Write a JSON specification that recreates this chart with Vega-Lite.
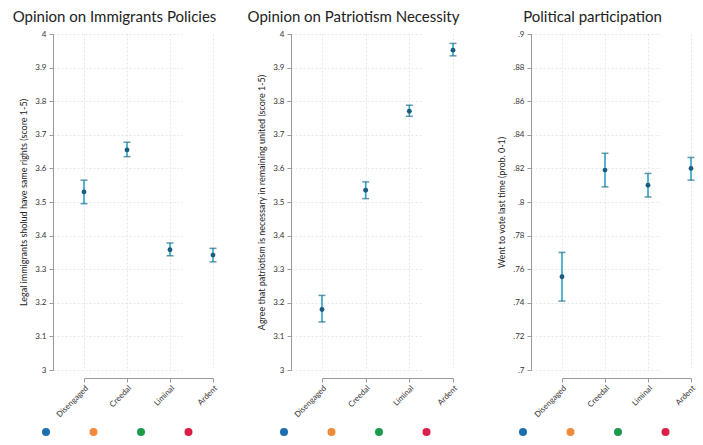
{
  "$schema": "https://vega.github.io/schema/vega-lite/v6.json",
  "padding": {"left": 12, "top": 10, "right": 5, "bottom": 5},
  "background": "white",
  "datasets": {
    "est": [
      {"panel": "imm", "group": "Disengaged", "mean": 3.53, "lo": 3.495, "hi": 3.565},
      {"panel": "imm", "group": "Creedal", "mean": 3.655, "lo": 3.635, "hi": 3.678},
      {"panel": "imm", "group": "Liminal", "mean": 3.358, "lo": 3.34, "hi": 3.378},
      {"panel": "imm", "group": "Ardent", "mean": 3.342, "lo": 3.322, "hi": 3.362},
      {"panel": "pat", "group": "Disengaged", "mean": 3.18, "lo": 3.143, "hi": 3.222},
      {"panel": "pat", "group": "Creedal", "mean": 3.535, "lo": 3.51, "hi": 3.56},
      {"panel": "pat", "group": "Liminal", "mean": 3.77, "lo": 3.755, "hi": 3.788},
      {"panel": "pat", "group": "Ardent", "mean": 3.952, "lo": 3.935, "hi": 3.972},
      {"panel": "vote", "group": "Disengaged", "mean": 0.7555, "lo": 0.741, "hi": 0.770},
      {"panel": "vote", "group": "Creedal", "mean": 0.819, "lo": 0.809, "hi": 0.829},
      {"panel": "vote", "group": "Liminal", "mean": 0.810, "lo": 0.803, "hi": 0.817},
      {"panel": "vote", "group": "Ardent", "mean": 0.820, "lo": 0.813, "hi": 0.8265}
    ]
  },
  "hconcat": [
    {
      "width": 129, "height": 336,
      "data": {"name": "est"},
      "transform": [{"filter": "datum.panel === 'imm'"}],
      "title": {"text": "Opinion on Immigrants Policies", "dx": -34},
      "encoding": {
        "x": {"field": "group", "type": "nominal", "scale": {"type": "point", "padding": 0, "domain": ["Disengaged", "Creedal", "Liminal", "Ardent"]},
              "axis": {"title": null, "offset": 8, "labelAngle": -45, "labelFontSize": 8, "tickSize": 4, "domainColor": "#9a9a9a", "tickColor": "#9a9a9a", "labelColor": "#333", "grid": true, "gridColor": "#e6e6e6", "gridDash": [2, 2]}}
      },
      "layer": [
        {"mark": {"type": "rule", "color": "#2ea3c6", "strokeWidth": 1.6},
         "encoding": {"y": {"field": "lo", "type": "quantitative", "title": "Legal immigrants sholud have same rights (score 1-5)",
                            "scale": {"domain": [3, 4], "nice": false, "zero": false},
                            "axis": {"values": [3, 3.1, 3.2, 3.3, 3.4, 3.5, 3.6, 3.7, 3.8, 3.9, 4], "labelExpr": "format(datum.value, '.1~f')"}},
                      "y2": {"field": "hi"}}},
        {"mark": {"type": "tick", "color": "#1f6e8c", "size": 7, "thickness": 1.5, "orient": "horizontal"},
         "encoding": {"y": {"field": "lo", "type": "quantitative", "title": "Legal immigrants sholud have same rights (score 1-5)",
                            "axis": {"values": [3, 3.1, 3.2, 3.3, 3.4, 3.5, 3.6, 3.7, 3.8, 3.9, 4], "labelExpr": "format(datum.value, '.1~f')"}}}},
        {"mark": {"type": "tick", "color": "#1f6e8c", "size": 7, "thickness": 1.5, "orient": "horizontal"},
         "encoding": {"y": {"field": "hi", "type": "quantitative", "title": "Legal immigrants sholud have same rights (score 1-5)",
                            "axis": {"values": [3, 3.1, 3.2, 3.3, 3.4, 3.5, 3.6, 3.7, 3.8, 3.9, 4], "labelExpr": "format(datum.value, '.1~f')"}}}},
        {"mark": {"type": "point", "filled": true, "color": "#1a5d7e", "size": 24, "opacity": 1},
         "encoding": {"y": {"field": "mean", "type": "quantitative", "title": "Legal immigrants sholud have same rights (score 1-5)",
                            "axis": {"values": [3, 3.1, 3.2, 3.3, 3.4, 3.5, 3.6, 3.7, 3.8, 3.9, 4], "labelExpr": "format(datum.value, '.1~f')"}}}},
        {"mark": {"type": "point", "filled": true, "opacity": 0},
         "encoding": {"y": {"field": "mean", "type": "quantitative", "title": "Legal immigrants sholud have same rights (score 1-5)",
                            "axis": {"values": [3, 3.1, 3.2, 3.3, 3.4, 3.5, 3.6, 3.7, 3.8, 3.9, 4], "labelExpr": "format(datum.value, '.1~f')"}},
                      "color": {"field": "group", "type": "nominal",
                                "scale": {"domain": ["Disengaged", "Creedal", "Liminal", "Ardent"], "range": ["#1c6fb0", "#ef8a3a", "#1d9a4e", "#dc1f4a"]},
                                "legend": {"orient": "none", "legendX": -43, "legendY": 393, "direction": "horizontal", "title": null, "labelExpr": "''", "symbolType": "circle", "symbolSize": 64, "symbolOpacity": 1, "symbolStrokeWidth": 0, "columnPadding": 37.5, "labelOffset": 0}}}}
      ]
    },
    {
      "width": 131, "height": 336,
      "data": {"name": "est"},
      "transform": [{"filter": "datum.panel === 'pat'"}],
      "title": {"text": "Opinion on Patriotism Necessity", "dx": -34},
      "encoding": {
        "x": {"field": "group", "type": "nominal", "scale": {"type": "point", "padding": 0, "domain": ["Disengaged", "Creedal", "Liminal", "Ardent"]},
              "axis": {"title": null, "offset": 8, "labelAngle": -45, "labelFontSize": 8, "tickSize": 4, "domainColor": "#9a9a9a", "tickColor": "#9a9a9a", "labelColor": "#333", "grid": true, "gridColor": "#e6e6e6", "gridDash": [2, 2]}}
      },
      "layer": [
        {"mark": {"type": "rule", "color": "#2ea3c6", "strokeWidth": 1.6},
         "encoding": {"y": {"field": "lo", "type": "quantitative", "title": "Agree that patriotism is necessary in remaining united (score 1-5)",
                            "scale": {"domain": [3, 4], "nice": false, "zero": false},
                            "axis": {"values": [3, 3.1, 3.2, 3.3, 3.4, 3.5, 3.6, 3.7, 3.8, 3.9, 4], "labelExpr": "format(datum.value, '.1~f')"}},
                      "y2": {"field": "hi"}}},
        {"mark": {"type": "tick", "color": "#1f6e8c", "size": 7, "thickness": 1.5, "orient": "horizontal"},
         "encoding": {"y": {"field": "lo", "type": "quantitative", "title": "Agree that patriotism is necessary in remaining united (score 1-5)",
                            "axis": {"values": [3, 3.1, 3.2, 3.3, 3.4, 3.5, 3.6, 3.7, 3.8, 3.9, 4], "labelExpr": "format(datum.value, '.1~f')"}}}},
        {"mark": {"type": "tick", "color": "#1f6e8c", "size": 7, "thickness": 1.5, "orient": "horizontal"},
         "encoding": {"y": {"field": "hi", "type": "quantitative", "title": "Agree that patriotism is necessary in remaining united (score 1-5)",
                            "axis": {"values": [3, 3.1, 3.2, 3.3, 3.4, 3.5, 3.6, 3.7, 3.8, 3.9, 4], "labelExpr": "format(datum.value, '.1~f')"}}}},
        {"mark": {"type": "point", "filled": true, "color": "#1a5d7e", "size": 24, "opacity": 1},
         "encoding": {"y": {"field": "mean", "type": "quantitative", "title": "Agree that patriotism is necessary in remaining united (score 1-5)",
                            "axis": {"values": [3, 3.1, 3.2, 3.3, 3.4, 3.5, 3.6, 3.7, 3.8, 3.9, 4], "labelExpr": "format(datum.value, '.1~f')"}}}},
        {"mark": {"type": "point", "filled": true, "opacity": 0},
         "encoding": {"y": {"field": "mean", "type": "quantitative", "title": "Agree that patriotism is necessary in remaining united (score 1-5)",
                            "axis": {"values": [3, 3.1, 3.2, 3.3, 3.4, 3.5, 3.6, 3.7, 3.8, 3.9, 4], "labelExpr": "format(datum.value, '.1~f')"}},
                      "color": {"field": "group", "type": "nominal",
                                "scale": {"domain": ["Disengaged", "Creedal", "Liminal", "Ardent"], "range": ["#1c6fb0", "#ef8a3a", "#1d9a4e", "#dc1f4a"]},
                                "legend": {"orient": "none", "legendX": -43, "legendY": 393, "direction": "horizontal", "title": null, "labelExpr": "''", "symbolType": "circle", "symbolSize": 64, "symbolOpacity": 1, "symbolStrokeWidth": 0, "columnPadding": 37.5, "labelOffset": 0}}}}
      ]
    },
    {
      "width": 129, "height": 336,
      "data": {"name": "est"},
      "transform": [{"filter": "datum.panel === 'vote'"}],
      "title": {"text": "Political participation", "dx": -34},
      "encoding": {
        "x": {"field": "group", "type": "nominal", "scale": {"type": "point", "padding": 0, "domain": ["Disengaged", "Creedal", "Liminal", "Ardent"]},
              "axis": {"title": null, "offset": 8, "labelAngle": -45, "labelFontSize": 8, "tickSize": 4, "domainColor": "#9a9a9a", "tickColor": "#9a9a9a", "labelColor": "#333", "grid": true, "gridColor": "#e6e6e6", "gridDash": [2, 2]}}
      },
      "layer": [
        {"mark": {"type": "rule", "color": "#2ea3c6", "strokeWidth": 1.6},
         "encoding": {"y": {"field": "lo", "type": "quantitative", "title": "Went to vote last time (prob. 0-1)",
                            "scale": {"domain": [0.7, 0.9], "nice": false, "zero": false},
                            "axis": {"values": [0.7, 0.72, 0.74, 0.76, 0.78, 0.8, 0.82, 0.84, 0.86, 0.88, 0.9], "labelExpr": "substring(format(datum.value, '.2~f'), 1)"}},
                      "y2": {"field": "hi"}}},
        {"mark": {"type": "tick", "color": "#1f6e8c", "size": 7, "thickness": 1.5, "orient": "horizontal"},
         "encoding": {"y": {"field": "lo", "type": "quantitative", "title": "Went to vote last time (prob. 0-1)",
                            "axis": {"values": [0.7, 0.72, 0.74, 0.76, 0.78, 0.8, 0.82, 0.84, 0.86, 0.88, 0.9], "labelExpr": "substring(format(datum.value, '.2~f'), 1)"}}}},
        {"mark": {"type": "tick", "color": "#1f6e8c", "size": 7, "thickness": 1.5, "orient": "horizontal"},
         "encoding": {"y": {"field": "hi", "type": "quantitative", "title": "Went to vote last time (prob. 0-1)",
                            "axis": {"values": [0.7, 0.72, 0.74, 0.76, 0.78, 0.8, 0.82, 0.84, 0.86, 0.88, 0.9], "labelExpr": "substring(format(datum.value, '.2~f'), 1)"}}}},
        {"mark": {"type": "point", "filled": true, "color": "#1a5d7e", "size": 24, "opacity": 1},
         "encoding": {"y": {"field": "mean", "type": "quantitative", "title": "Went to vote last time (prob. 0-1)",
                            "axis": {"values": [0.7, 0.72, 0.74, 0.76, 0.78, 0.8, 0.82, 0.84, 0.86, 0.88, 0.9], "labelExpr": "substring(format(datum.value, '.2~f'), 1)"}}}},
        {"mark": {"type": "point", "filled": true, "opacity": 0},
         "encoding": {"y": {"field": "mean", "type": "quantitative", "title": "Went to vote last time (prob. 0-1)",
                            "axis": {"values": [0.7, 0.72, 0.74, 0.76, 0.78, 0.8, 0.82, 0.84, 0.86, 0.88, 0.9], "labelExpr": "substring(format(datum.value, '.2~f'), 1)"}},
                      "color": {"field": "group", "type": "nominal",
                                "scale": {"domain": ["Disengaged", "Creedal", "Liminal", "Ardent"], "range": ["#1c6fb0", "#ef8a3a", "#1d9a4e", "#dc1f4a"]},
                                "legend": {"orient": "none", "legendX": -44, "legendY": 393, "direction": "horizontal", "title": null, "labelExpr": "''", "symbolType": "circle", "symbolSize": 64, "symbolOpacity": 1, "symbolStrokeWidth": 0, "columnPadding": 37.5, "labelOffset": 0}}}}
      ]
    }
  ],
  "spacing": 109,
  "bounds": "flush",
  "resolve": {"scale": {"color": "independent"}, "legend": {"color": "independent"}},
  "config": {
    "font": "Lato",
    "view": {"stroke": null},
    "title": {"fontSize": 15, "fontWeight": "normal", "color": "#222", "anchor": "middle", "offset": 5},
    "axis": {"labelFont": "Lato", "titleFont": "Lato"},
    "axisY": {"offset": 31, "tickSize": 4, "labelFontSize": 8, "labelPadding": 3, "labelColor": "#333", "labelOverlap": false, "titleFontSize": 9, "titleFontWeight": "normal", "titleColor": "#222", "titlePadding": 6, "domainColor": "#9a9a9a", "tickColor": "#9a9a9a", "grid": true, "gridColor": "#e6e6e6", "gridDash": [2, 2]}
  }
}
